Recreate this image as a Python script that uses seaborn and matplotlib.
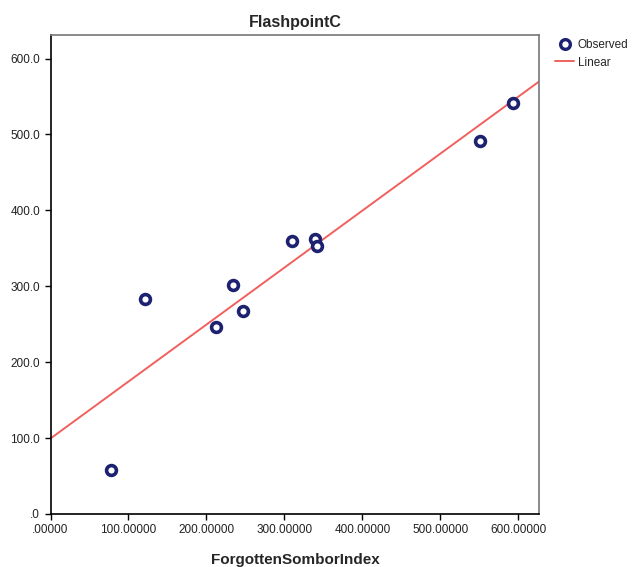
import numpy as np
import pandas as pd
import matplotlib
matplotlib.use("Agg")
import matplotlib.pyplot as plt
import seaborn as sns
from matplotlib.ticker import FuncFormatter
from matplotlib.lines import Line2D

sombor_index = [77.2, 121.5, 211.8, 234.4, 246.4, 310.0, 339.0, 342.0, 551.0, 593.3]
flashpoint_c = [58.0, 283.6, 246.3, 301.2, 267.5, 360.0, 362.8, 353.0, 492.0, 541.0]
x_ticks = [0, 100, 200, 300, 400, 500, 600]
y_ticks = [0, 100, 200, 300, 400, 500, 600]

df = pd.DataFrame({"ForgottenSomborIndex": sombor_index, "FlashpointC": flashpoint_c})

sns.set_style("white")
plt.rcParams["font.family"] = ["Liberation Sans", "DejaVu Sans"]

navy = "#1c2170"
red = "#f0605e"

fig = plt.figure(figsize=(6.37, 5.67), dpi=100)
ax = fig.add_axes([0.0793, 0.0935, 0.7673, 0.8448])
ax.set_xlim(0, 627)
ax.set_ylim(0, 631)

# fit line first so it spans the full axis
sns.regplot(data=df, x="ForgottenSomborIndex", y="FlashpointC", ax=ax,
            scatter=False, ci=None, truncate=False,
            line_kws={"color": red, "linewidth": 1.4, "zorder": 2})
sns.scatterplot(data=df, x="ForgottenSomborIndex", y="FlashpointC", ax=ax,
                marker="o", s=50, facecolor="white", edgecolor=navy,
                linewidth=2.6, zorder=3)

ax.set_xlim(0, 627)
ax.set_ylim(0, 631)
ax.set_xticks(x_ticks)
ax.set_yticks(y_ticks)
ax.xaxis.set_major_formatter(FuncFormatter(lambda v, p: ("%.5f" % v).lstrip("0") if v == 0 else "%.5f" % v))
ax.yaxis.set_major_formatter(FuncFormatter(lambda v, p: ("%.1f" % v).lstrip("0") if v == 0 else "%.1f" % v))
ax.tick_params(axis="both", direction="out", length=4, width=1, color="black",
               labelsize=8.5, labelcolor="#222222", bottom=True, left=True)

for side in ["left", "bottom"]:
    ax.spines[side].set_color("black")
    ax.spines[side].set_linewidth(1.2)
for side in ["top", "right"]:
    ax.spines[side].set_color("#777777")
    ax.spines[side].set_linewidth(1.2)

ax.set_ylabel("")
ax.set_xlabel("ForgottenSomborIndex", fontsize=11, fontweight="bold", labelpad=12)
ax.set_title("FlashpointC", fontsize=11.5, fontweight="bold", pad=6)

handles = [
    Line2D([], [], marker="o", linestyle="none", markersize=7, markerfacecolor="white",
           markeredgecolor=navy, markeredgewidth=2.4, label="Observed"),
    Line2D([], [], color=red, linewidth=1.4, label="Linear"),
]
fig.legend(handles=handles, loc="upper left", bbox_to_anchor=(0.864, 0.939),
           frameon=False, fontsize=8.5, handlelength=1.6, handletextpad=0.3,
           borderaxespad=0, labelspacing=0.45)

fig.savefig("out.png", dpi=100)
